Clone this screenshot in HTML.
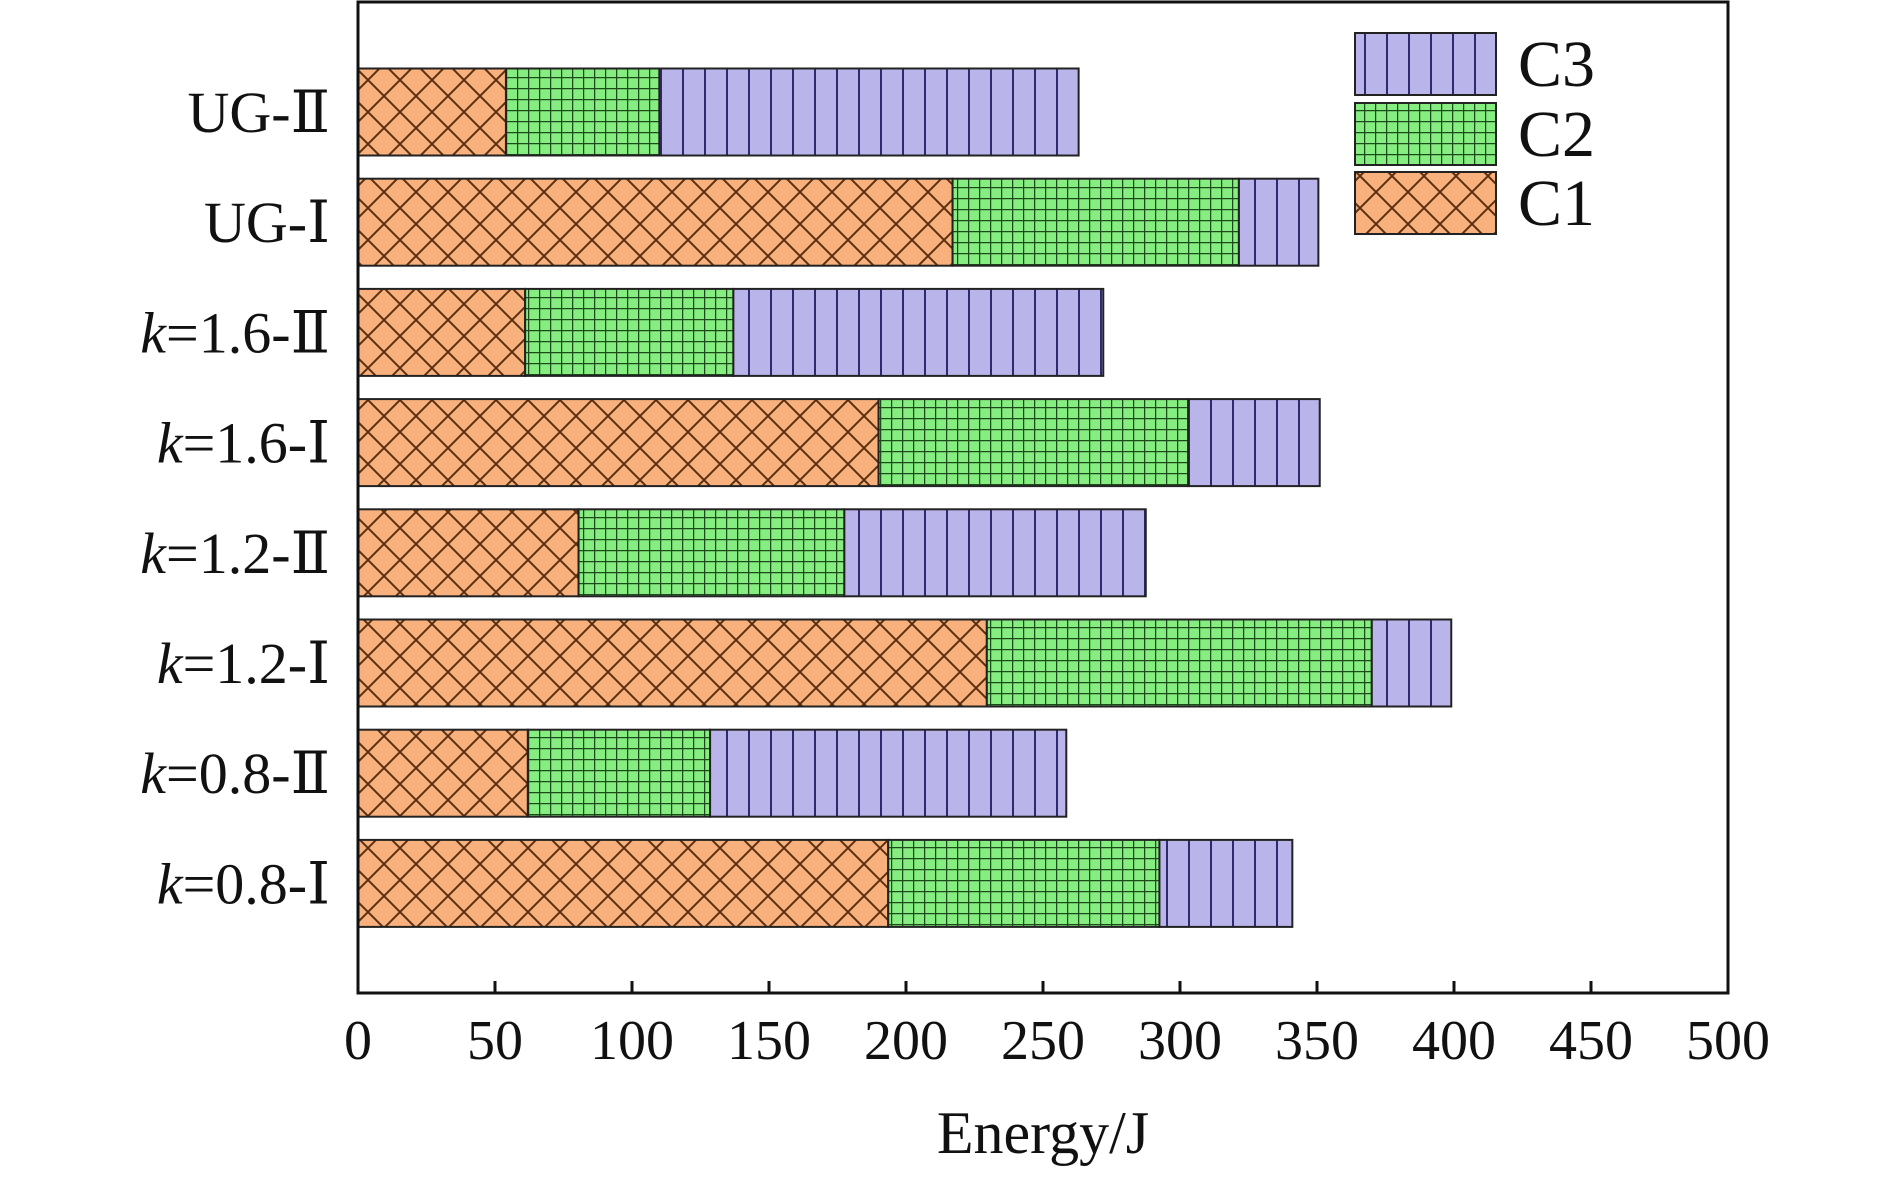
<!DOCTYPE html>
<html><head><meta charset="utf-8"><style>
html,body{margin:0;padding:0;background:#fff;}
svg text{font-family:"Liberation Serif","DejaVu Serif","Noto Serif CJK SC",serif;fill:#111;}
</style></head><body>
<svg id="chart" width="1890" height="1178" viewBox="0 0 1890 1178" xmlns="http://www.w3.org/2000/svg">
<defs>
<pattern id="pC1" patternUnits="userSpaceOnUse" width="32" height="32">
<rect width="32" height="32" fill="#f8b17c"/>
<path d="M0,0 L32,32 M32,0 L0,32" stroke="#5a3010" stroke-width="2"/>
</pattern>
<pattern id="pC2" patternUnits="userSpaceOnUse" width="11" height="11">
<rect width="11" height="11" fill="#86ee80"/>
<path d="M0,0.5 H11 M0.5,0 V11" stroke="#1d4a1a" stroke-width="1.5"/>
</pattern>
<pattern id="pC3" patternUnits="userSpaceOnUse" width="22" height="22">
<rect width="22" height="22" fill="#b9b5ea"/>
<path d="M1,0 V22" stroke="#2d2a70" stroke-width="2"/>
</pattern>
</defs>
<g id="plot"></g>
</svg>
<script>
const categories=["UG-Ⅱ","UG-Ⅰ","k=1.6-Ⅱ","k=1.6-Ⅰ","k=1.2-Ⅱ","k=1.2-Ⅰ","k=0.8-Ⅱ","k=0.8-Ⅰ"];
const c1=[54,217,61,190,80.5,229.5,62,193.5];
const c2=[56,104.5,76,113,97,140.5,66.5,99];
const c3=[153,29,135,48,110,29,130,48.5];
const xTicks=[0,50,100,150,200,250,300,350,400,450,500];
const seriesNames=["C1","C2","C3"];

const L=358,R=1728,T=2,B=993;
const xs=v=>L+(v-0)/(500-0)*(R-L);
const yc=i=>112+i*110.2;
const BH=87;
const NS="http://www.w3.org/2000/svg";
const g=document.getElementById('plot');
function mk(tag,attrs){const e=document.createElementNS(NS,tag);for(const k in attrs)e.setAttribute(k,attrs[k]);g.appendChild(e);return e;}

categories.forEach((c,i)=>{
  const vals=[c1[i],c2[i],c3[i]];let acc=0;
  vals.forEach((v,s)=>{
    const r=mk('rect',{x:xs(acc),y:yc(i)-BH/2,width:xs(acc+v)-xs(acc),height:BH,fill:'url(#pC'+(s+1)+')',stroke:'#222','stroke-width':2});
    
    
    acc+=v;
  });
  const t=mk('text',{x:330,y:yc(i)+20,'text-anchor':'end','font-size':58});
  
  
  if(c.startsWith('k=')){
    const a=document.createElementNS(NS,'tspan');a.setAttribute('font-style','italic');a.textContent='k';t.appendChild(a);
    const b=document.createElementNS(NS,'tspan');b.textContent=c.slice(1);t.appendChild(b);
  } else t.textContent=c;
});

const fr=mk('rect',{x:L,y:T,width:R-L,height:B-T,fill:'none',stroke:'#111','stroke-width':3});



xTicks.forEach(v=>{
  const tk=mk('line',{x1:xs(v),x2:xs(v),y1:B,y2:B-12,stroke:'#111','stroke-width':3});
  
  
  const tl=mk('text',{x:xs(v),y:1059,'text-anchor':'middle','font-size':56});
  tl.textContent=v;
  
  
});
const xt=mk('text',{x:1043,y:1153,'text-anchor':'middle','font-size':60});
xt.textContent='Energy/J';



const leg=[["C3",33],["C2",103],["C1",172]];
leg.forEach(([n,y],k)=>{
  const idx=seriesNames.indexOf(n)+1;
  const r=mk('rect',{x:1355,y:y,width:141,height:62,fill:'url(#pC'+idx+')',stroke:'#222','stroke-width':2});
  
  
  const t=mk('text',{x:1518,y:y+53,'font-size':66});
  t.textContent=n;
  
  
});
</script>
</body></html>
